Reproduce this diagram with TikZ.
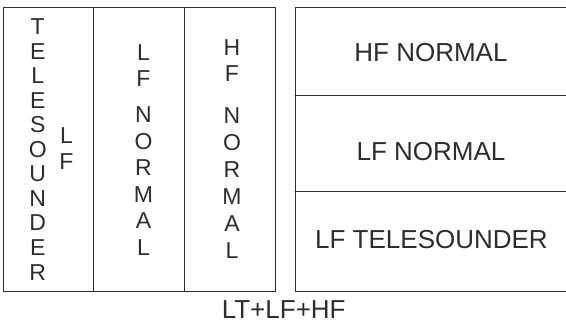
\documentclass[tikz,border=0pt]{standalone}
\usepackage{fontspec}
\setmainfont{Liberation Sans}
\definecolor{framegray}{RGB}{45,45,45}

\begin{document}
\begin{tikzpicture}[x=1pt,y=-1pt,line cap=round,line join=round,
    frame/.style={draw=framegray,line width=1pt},
    letter/.style={anchor=base,inner sep=0pt,text=framegray,font=\fontsize{23}{26}\selectfont},
    rowlabel/.style={inner sep=0pt,text=framegray,font=\fontsize{26}{30}\selectfont}]
    \useasboundingbox (0,0) rectangle (566,324);

    % left panel: three stacked columns
    \draw[frame] (3.3,7.3) rectangle (275.5,291.2);
    \draw[frame] (93.3,7.3) -- (93.3,291.2);
    \draw[frame] (184.3,7.3) -- (184.3,291.2);

    % right panel: three rows (right edge runs off the page)
    \draw[frame] (567.5,7.3) -- (295,7.3) -- (295,291.2) -- (567.5,291.2);
    \draw[frame] (295,95.7) -- (567.5,95.7);
    \draw[frame] (295,191) -- (567.5,191);

    \foreach \ch [count=\i from 0] in {T,E,L,E,S,O,U,N,D,E,R}
        \node[letter] (ts\i) at (37.7,34.5+24.55*\i) {\ch};
    \node[letter] (tslf1) at (66.5,143.8) {L};
    \node[letter] (tslf2) at (66.5,169.5) {F};

    \foreach \ch/\yy [count=\i] in {L/60,F/86.5,N/122.5,O/149,R/175.5,M/202,A/228.5,L/255}
        \node[letter] (lf\i) at (143.5,\yy) {\ch};
    \foreach \ch/\yy [count=\i] in {H/55,F/81.5,N/123,O/150,R/177.1,M/204.2,A/231.2,L/258.3}
        \node[letter] (hf\i) at (232,\yy) {\ch};

    \node[rowlabel] (hfnormal) at (431,52.8) {HF NORMAL};
    \node[rowlabel] (lfnormal) at (431,151.7) {LF NORMAL};
    \node[rowlabel] (lftele) at (431.5,239.2) {LF TELESOUNDER};
    \node[rowlabel] (caption) at (283.7,310) {LT+LF+HF};
\end{tikzpicture}
\end{document}
